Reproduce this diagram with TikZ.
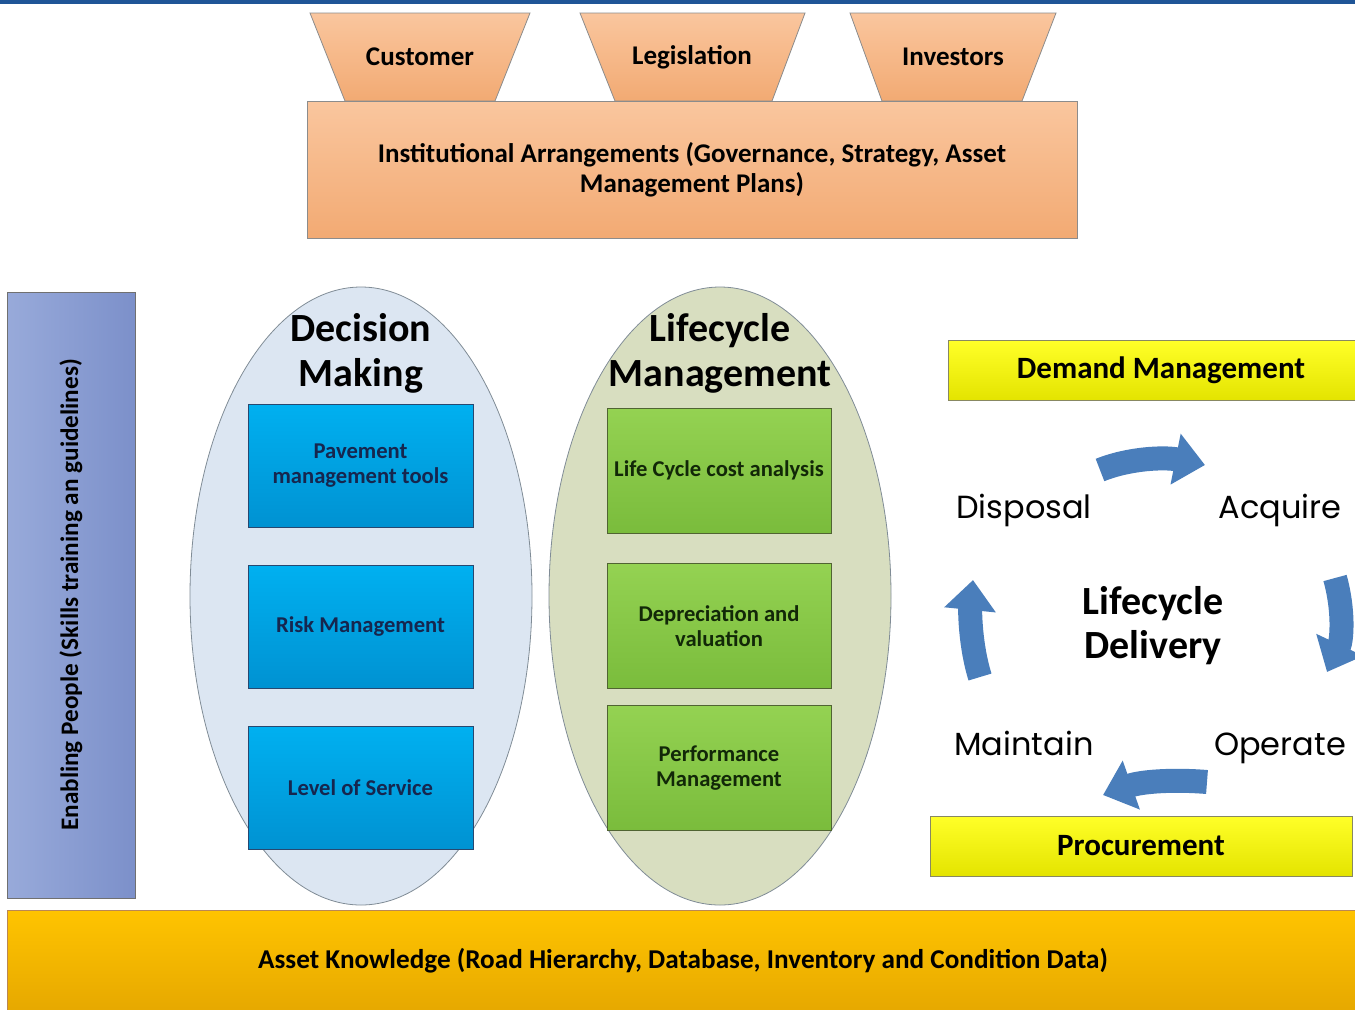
\documentclass[tikz,border=0pt]{standalone}
\usepackage{fontspec}
\setmainfont{Carlito}
\newfontfamily\gothic{Poppins}
\usetikzlibrary{shapes.geometric,arrows.meta}
\definecolor{topline}{RGB}{31,85,151}
\definecolor{orangetop}{RGB}{250,198,158}
\definecolor{orangebot}{RGB}{242,170,115}
\definecolor{peopletop}{RGB}{152,170,218}
\definecolor{peoplebot}{RGB}{124,144,202}
\definecolor{dmfill}{RGB}{220,230,242}
\definecolor{lmfill}{RGB}{216,222,192}
\definecolor{ellgray}{RGB}{128,140,150}
\definecolor{bluetop}{RGB}{0,176,240}
\definecolor{bluebot}{RGB}{0,146,210}
\definecolor{blueedge}{RGB}{40,72,112}
\definecolor{navytext}{RGB}{22,38,78}
\definecolor{greentop}{RGB}{148,210,82}
\definecolor{greenbot}{RGB}{122,188,60}
\definecolor{greenedge}{RGB}{80,100,50}
\definecolor{greentext}{RGB}{18,40,8}
\definecolor{yellowtop}{RGB}{255,255,40}
\definecolor{yellowbot}{RGB}{228,228,0}
\definecolor{goldtop}{RGB}{255,196,0}
\definecolor{goldbot}{RGB}{230,168,0}
\definecolor{cycleblue}{RGB}{74,126,187}
\definecolor{boxgray}{RGB}{140,140,140}
\tikzset{
  stakeshape/.style={draw=boxgray,top color=orangetop,bottom color=orangebot},
  stakelabel/.style={font=\bfseries\fontsize{13.5}{16}\selectfont},
  instbox/.style={rectangle,draw=boxgray,top color=orangetop,bottom color=orangebot,
    minimum width=385pt,minimum height=68.5pt,align=center,
    font=\bfseries\fontsize{13.5}{15}\selectfont},
  peoplebar/.style={rectangle,draw=boxgray!80!black,left color=peopletop,right color=peoplebot,
    minimum width=64pt,minimum height=303pt},
  panel/.style={ellipse,draw=ellgray,minimum width=171pt,minimum height=309pt},
  title/.style={align=center,font=\bfseries\fontsize{20}{22.5}\selectfont},
  toolbox/.style={rectangle,draw=blueedge,top color=bluetop,bottom color=bluebot,
    minimum width=112.5pt,minimum height=61.5pt,align=center,text=navytext,
    font=\bfseries\fontsize{11.3}{12.5}\selectfont},
  lcbox/.style={rectangle,draw=greenedge,top color=greentop,bottom color=greenbot,
    minimum width=112pt,minimum height=62.5pt,align=center,text=greentext,
    font=\bfseries\fontsize{11.3}{12.5}\selectfont},
  yellowbar/.style={rectangle,draw=boxgray!70!olive,top color=yellowtop,bottom color=yellowbot,
    minimum height=30pt,font=\bfseries\fontsize{15.5}{18}\selectfont},
  knowbar/.style={rectangle,draw=boxgray!60!orange,top color=goldtop,bottom color=goldbot,
    minimum width=676pt,minimum height=51pt,font=\bfseries\fontsize{13.6}{16}\selectfont},
  stage/.style={anchor=base,font=\gothic\fontsize{16}{19}\selectfont},
  hub/.style={align=center,font=\bfseries\fontsize{20}{22}\selectfont},
  cyclearrow/.style={draw=cycleblue,line width=12pt,-{Triangle[width=25pt,length=15pt]}}
}
\begin{document}
\begin{tikzpicture}[x=0.5pt,y=-0.5pt]
\useasboundingbox (0,0) rectangle (1355,1009);
\clip (0,0) rectangle (1355,1009);
\fill[topline] (0,0) rectangle (1355,4);

% stakeholders and institution
\path[stakeshape] (310,13) -- (530,13) -- (495,101) -- (345,101) -- cycle;
\path[stakeshape] (580,13) -- (805,13) -- (772,101) -- (615,101) -- cycle;
\path[stakeshape] (850,13) -- (1056,13) -- (1022,101) -- (882,101) -- cycle;
\node[stakelabel] (cust) at (420,57) {Customer};
\node[stakelabel] (legis) at (692,57) {Legislation};
\node[stakelabel] (invest) at (953,57) {Investors};
\node[instbox] (inst) at (692,169.5) {Institutional Arrangements (Governance, Strategy, Asset\\Management Plans)};

% people
\node[peoplebar] (people) at (71,595) {};
\node[rotate=90,font=\bfseries\fontsize{12.6}{15}\selectfont] (peopletext) at (people.center) {Enabling People (Skills training an guidelines)};

% the two panels
\node[panel,fill=dmfill] (dmell) at (361,596) {};
\node[panel,fill=lmfill] (lmell) at (720,596) {};
\node[title] (dmtitle) at (361,353) {Decision\\Making};
\node[title] (lmtitle) at (720,353) {Lifecycle\\Management};

\node[toolbox] (pmt) at (360.5,465.5) {Pavement\\management tools};
\node[toolbox] (risk) at (360.5,626.5) {Risk Management};
\node[toolbox] (los) at (360.5,788) {Level of Service};

\node[lcbox] (lcca) at (719,470.5) {Life Cycle cost analysis};
\node[lcbox] (depr) at (719,626) {Depreciation and\\valuation};
\node[lcbox] (perf) at (719,768) {Performance\\Management};

% delivery cycle
\node[yellowbar,minimum width=213pt] (demand) at (1161,370) {Demand Management};
\node[yellowbar,minimum width=211pt] (procure) at (1141,846) {Procurement};

\node[stage] (disp) at (1024,518) {Disposal};
\node[stage] (acq) at (1280,518) {Acquire};
\node[stage] (maint) at (1024,755) {Maintain};
\node[stage] (oper) at (1280,755) {Operate};
\node[hub] (lcd) at (1153,626) {Lifecycle\\Delivery};

\coordinate (topS) at (1100,470);
\coordinate (topE) at (1205,465);
\coordinate (rgtS) at (1335,578);
\coordinate (rgtE) at (1327,672);
\coordinate (botS) at (1207,782);
\coordinate (botE) at (1103,795);
\coordinate (lftS) at (980,677);
\coordinate (lftE) at (973,580);
\draw[cyclearrow] (topS) .. controls (1130,458) and (1165,457) .. (topE);
\draw[cyclearrow] (rgtS) .. controls (1344,610) and (1342,640) .. (rgtE);
\draw[cyclearrow] (botS) .. controls (1170,779) and (1140,782) .. (botE);
\draw[cyclearrow] (lftS) .. controls (970,645) and (970,610) .. (lftE);

% knowledge
\node[knowbar] (know) at (683,961) {Asset Knowledge (Road Hierarchy, Database, Inventory and Condition Data)};
\end{tikzpicture}
\end{document}
